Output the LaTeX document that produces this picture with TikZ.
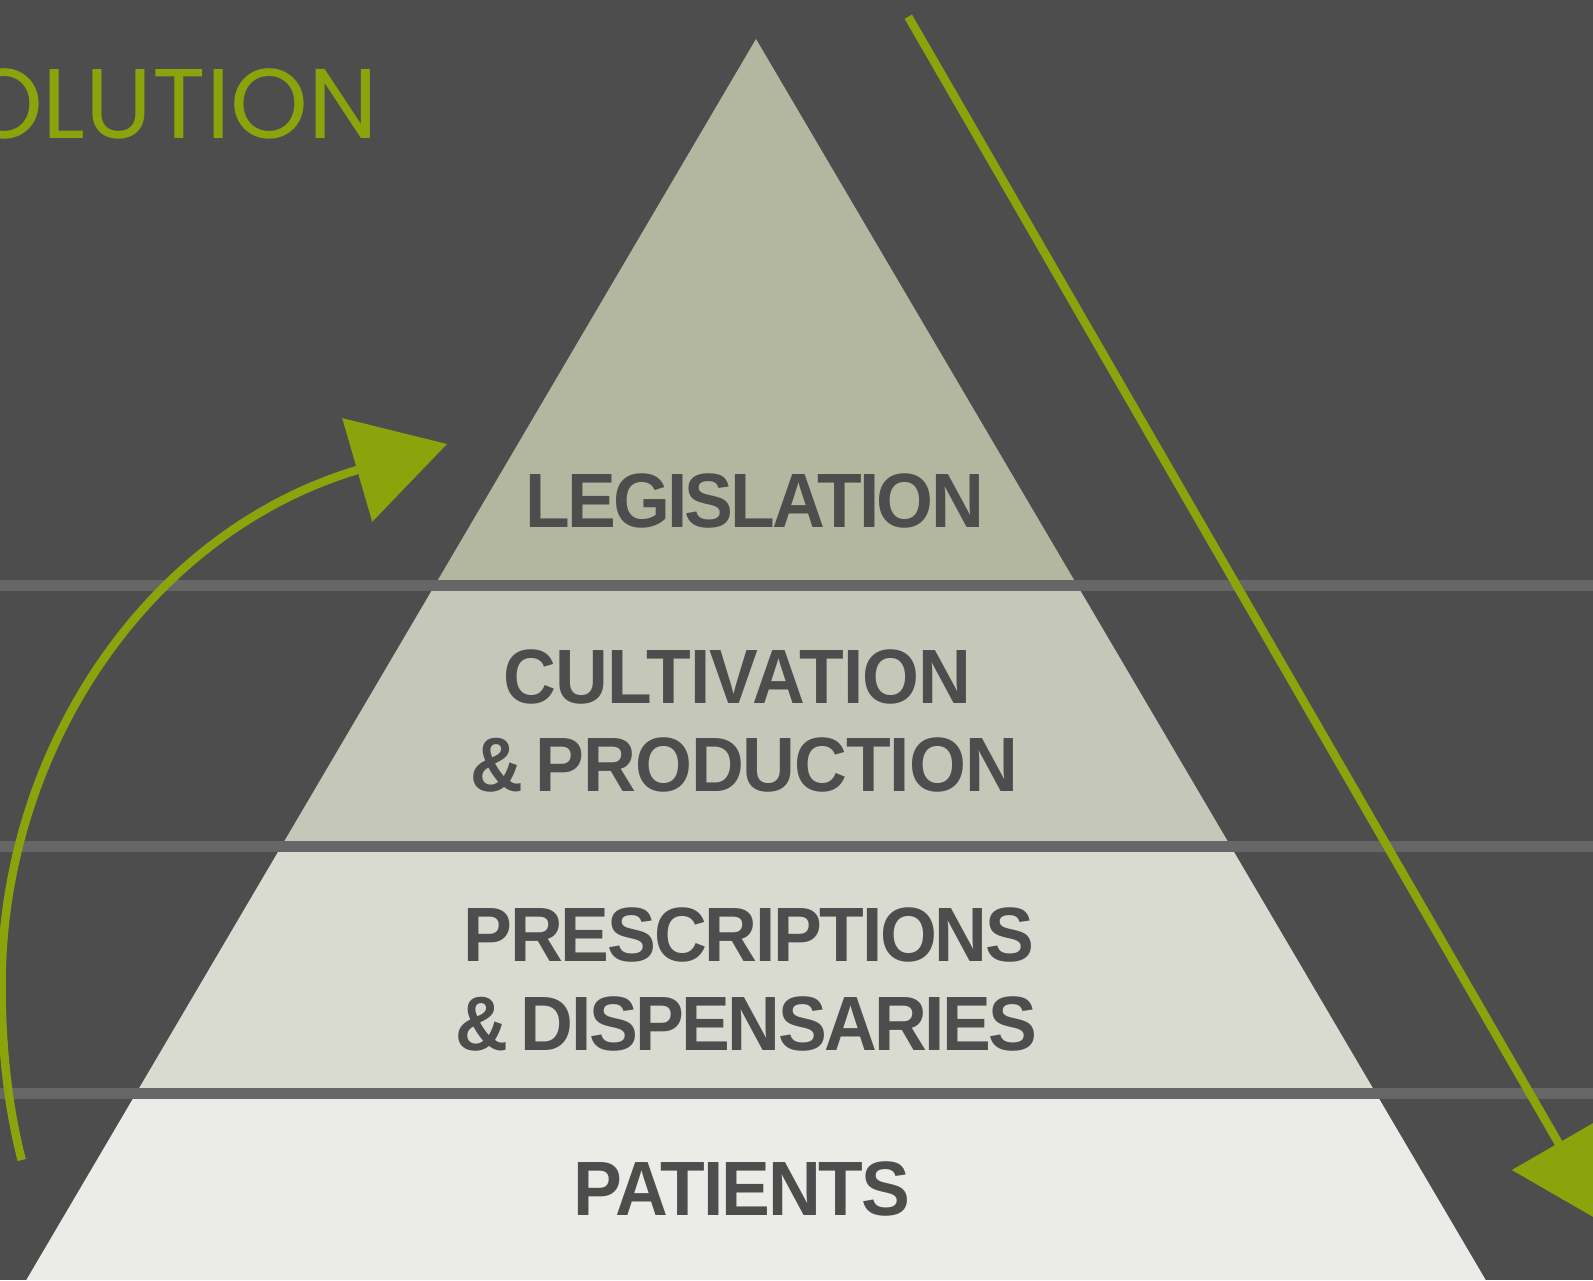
\documentclass[tikz,border=0pt]{standalone}
\usepackage{fontspec}
\setmainfont{Liberation Sans}
\newfontfamily\pyrfont{Liberation Sans}[UprightFont={* Bold}, FakeStretch=0.95]
\newfontfamily\titlefont{Poppins}
\newcommand{\trk}[2]{{\addfontfeature{LetterSpace=#1}#2}}
\definecolor{bgcol}{HTML}{4D4D4D}
\definecolor{bandgray}{HTML}{666666}
\definecolor{textgray}{HTML}{4D4D4D}
\definecolor{arrowgreen}{HTML}{8BA40B}
\definecolor{layerA}{HTML}{B3B7A0}
\definecolor{layerB}{HTML}{C5C7B8}
\definecolor{layerC}{HTML}{D9DAD0}
\definecolor{layerD}{HTML}{EBECE7}
\begin{document}
\begin{tikzpicture}[x=1pt,y=-1pt,
  layertext/.style={anchor=base, inner sep=0pt, text=textgray, font=\pyrfont\fontsize{77}{86}\selectfont},
  titletext/.style={anchor=base east, inner sep=0pt, text=arrowgreen, font=\titlefont\fontsize{99}{110}\selectfont},
  bandline/.style={draw=bandgray, line width=11pt},
  greenline/.style={draw=arrowgreen, line width=8.5pt},
  greenhead/.style={fill=arrowgreen}]
\useasboundingbox (0,0) rectangle (1593,1280);
\clip (0,0) rectangle (1593,1280);
\fill[bgcol] (0,0) rectangle (1593,1280);
% pyramid layers
\begin{scope}
  \clip (756,39) -- (1485.7,1280) -- (26.3,1280) -- cycle;
  \fill[layerA] (0,0) rectangle (1593,585);
  \fill[layerB] (0,585) rectangle (1593,846.5);
  \fill[layerC] (0,846.5) rectangle (1593,1093);
  \fill[layerD] (0,1093) rectangle (1593,1290);
\end{scope}
% separating bands
\draw[bandline] (0,585) -- (1593,585);
\draw[bandline] (0,846.5) -- (1593,846.5);
\draw[bandline] (0,1093) -- (1593,1093);
% texts
\node[titletext] (title) at (378,138) {OLUTION};
\node[layertext] (leg) at (754.5,527) {\trk{-3.6}{LEGISLATION}};
\node[layertext] (cult1) at (737.5,703) {\trk{-0.9}{CULTIVATION}};
\node[layertext] (cult2) at (744,791) {\trk{-1.4}{\&\,PRODUCTION}};
\node[layertext] (pres1) at (749,961) {\trk{-2.95}{PRESCRIPTIONS}};
\node[layertext] (pres2) at (746.5,1050) {\trk{-3.3}{\&\,DISPENSARIES}};
\node[layertext] (pat) at (742,1215) {\trk{-2.7}{PATIENTS}};
% left curved arrow
\coordinate (arcstart) at (21.7,1160);
\coordinate (arcleft) at (1.5,985);
\coordinate (arcend) at (362,468.6);
\coordinate (ltip) at (447,444);
\coordinate (lc1) at (342.2,418.1);
\coordinate (lc2) at (372.2,521.8);
\draw[greenline] (arcstart) .. controls (7.2,1103.7) and (1.5,1043) .. (arcleft)
  .. controls (1.5,753) and (145.8,531) .. (arcend);
\fill[greenhead] (ltip) -- (lc1) -- (lc2) -- cycle;
% right straight arrow
\coordinate (rstart) at (908.3,16.7);
\coordinate (rend) at (1561,1147.3);
\coordinate (rtip) at (1605.35,1223.97);
\coordinate (rc1) at (1605.36,1116.0);
\coordinate (rc2) at (1511.84,1170.0);
\draw[greenline] (rstart) -- (rend);
\fill[greenhead] (rtip) -- (rc1) -- (rc2) -- cycle;
\end{tikzpicture}
\end{document}
